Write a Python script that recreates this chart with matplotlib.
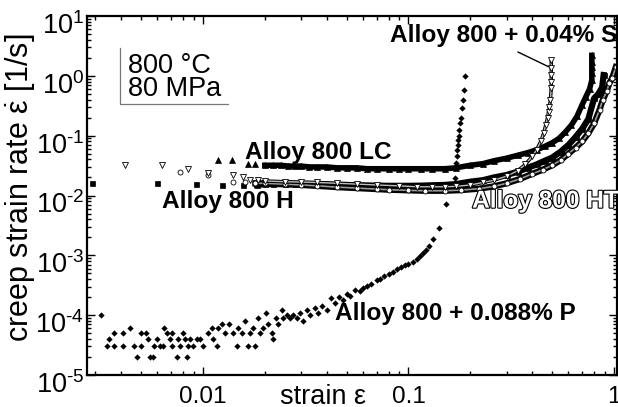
import numpy as np
import matplotlib
matplotlib.use("Agg")
import matplotlib.pyplot as plt
from matplotlib import patheffects as pe
from matplotlib.transforms import ScaledTranslation

plt.rcParams['font.family'] = ['Liberation Sans', 'DejaVu Sans']
plt.rcParams['mathtext.fontset'] = 'custom'
plt.rcParams['mathtext.rm'] = 'Liberation Sans'
plt.rcParams['mathtext.it'] = 'Liberation Sans'
plt.rcParams['mathtext.bf'] = 'Liberation Sans:bold'

# ---- data: strain, creep strain rate [1/s] ----
# Alloy 800 LC (filled triangles)
lc_x = [0.0118, 0.0139, 0.0165, 0.018, 0.02, 0.022, 0.024, 0.026, 0.028, 0.03,
        0.033, 0.036, 0.04, 0.045, 0.05, 0.056, 0.063, 0.07, 0.08, 0.09, 0.1,
        0.115, 0.13, 0.15, 0.17, 0.2, 0.23, 0.26, 0.3, 0.34, 0.38, 0.42, 0.46,
        0.5, 0.54, 0.58, 0.62, 0.66, 0.7, 0.73, 0.76, 0.78, 0.78, 0.78, 0.78, 0.78]
lc_y = [0.039, 0.039, 0.033, 0.033, 0.032, 0.032, 0.032, 0.031, 0.031, 0.031,
        0.030, 0.030, 0.030, 0.029, 0.029, 0.029, 0.028, 0.028, 0.028, 0.028, 0.028,
        0.028, 0.028, 0.028, 0.029, 0.032, 0.034, 0.038, 0.042, 0.047, 0.052, 0.058, 0.066,
        0.076, 0.09, 0.115, 0.15, 0.21, 0.33, 0.45, 0.6, 0.85, 1.1, 1.4, 1.7, 2.2]
lc_dense = 4

# Alloy 800 H (filled squares)
h_x = [0.0029, 0.006, 0.0093, 0.0124, 0.0156, 0.0183, 0.02, 0.022, 0.025, 0.028,
       0.032, 0.036, 0.04, 0.045, 0.05, 0.056, 0.063, 0.07, 0.08, 0.09, 0.1, 0.115,
       0.13, 0.15, 0.17, 0.2, 0.23, 0.26, 0.3, 0.34, 0.38, 0.42, 0.46, 0.5, 0.55,
       0.6, 0.65, 0.7, 0.75, 0.8, 0.84, 0.86, 0.875, 0.89]
h_y = [0.0161, 0.0161, 0.0155, 0.0148, 0.015, 0.015, 0.0155, 0.0155, 0.0155, 0.0155,
       0.0155, 0.0155, 0.0152, 0.015, 0.015, 0.0148, 0.0147, 0.0146, 0.0145, 0.0145, 0.0145, 0.0146,
       0.0148, 0.015, 0.0155, 0.017, 0.018, 0.02, 0.022, 0.025, 0.029, 0.033, 0.038, 0.043, 0.054,
       0.07, 0.095, 0.13, 0.19, 0.42, 0.5, 0.58, 0.63, 1.03]
h_dense = 5

# Alloy 800 HT (open circles)
ht_x = [0.0077, 0.0106, 0.014, 0.016, 0.018, 0.02, 0.025, 0.03, 0.036, 0.045,
        0.056, 0.07, 0.08, 0.1, 0.12, 0.15, 0.18, 0.22, 0.26, 0.3, 0.35, 0.4,
        0.45, 0.5, 0.55, 0.6, 0.65, 0.7, 0.75, 0.8, 0.85, 0.88, 0.92, 0.95, 0.98, 1.02]
ht_y = [0.0246, 0.0217, 0.0169, 0.0165, 0.016, 0.016, 0.0155, 0.015, 0.0145, 0.0138,
        0.0133, 0.0128, 0.0125, 0.0122, 0.012, 0.012, 0.0123, 0.013, 0.0142, 0.016, 0.019, 0.023,
        0.027, 0.032, 0.039, 0.05, 0.063, 0.08, 0.11, 0.16, 0.27, 0.39, 0.55, 0.76, 0.92, 1.4]
ht_dense = 4

# Alloy 800 + 0.04% Si (open down triangles)
si_x = [0.0042, 0.0063, 0.0085, 0.0106, 0.014, 0.0156, 0.017, 0.0185, 0.02, 0.025,
        0.03, 0.036, 0.045, 0.056, 0.07, 0.09, 0.11, 0.13, 0.15, 0.17, 0.2, 0.23,
        0.26, 0.3, 0.34, 0.37, 0.4, 0.42, 0.44, 0.455, 0.465, 0.475, 0.48, 0.485,
        0.49, 0.495, 0.495, 0.495, 0.495, 0.495]
si_y = [0.0323, 0.0323, 0.0276, 0.0237, 0.0217, 0.0201, 0.0185, 0.018, 0.0175, 0.017,
        0.0168, 0.0165, 0.016, 0.0155, 0.015, 0.0145, 0.014, 0.014, 0.014, 0.0142, 0.015, 0.0165,
        0.018, 0.021, 0.026, 0.033, 0.045, 0.058, 0.08, 0.11, 0.15, 0.2, 0.25, 0.3,
        0.39, 0.62, 0.79, 1.03, 1.35, 1.84]
si_dense = 8

# Alloy 800 + 0.088% P (filled diamonds)
p_x = [0.0032, 0.0034, 0.0035, 0.0037, 0.0037, 0.0041, 0.0041, 0.0044, 0.0046, 0.0048,
       0.005, 0.005, 0.0053, 0.0054, 0.0055, 0.0057, 0.0058, 0.006, 0.0062, 0.0064,
       0.0065, 0.0067, 0.0069, 0.0071, 0.0071, 0.0075, 0.0076, 0.0077, 0.008, 0.0082,
       0.0084, 0.0085, 0.0087, 0.0089, 0.0094, 0.0097, 0.01, 0.0106, 0.0111, 0.0112,
       0.0117, 0.0118, 0.0124, 0.0128, 0.0134, 0.014, 0.0147, 0.0148, 0.0155, 0.016,
       0.0166, 0.0169, 0.0175, 0.0179, 0.0185, 0.0189, 0.0196, 0.0203, 0.0207, 0.0217,
       0.0219, 0.0227, 0.0232, 0.0242, 0.0245, 0.0256, 0.0265, 0.0274, 0.0287, 0.0296,
       0.0307, 0.0321, 0.0332, 0.035, 0.0363, 0.038, 0.04, 0.042, 0.044, 0.046,
       0.048, 0.05, 0.052, 0.055, 0.058, 0.06, 0.063, 0.066, 0.07, 0.073,
       0.076, 0.08, 0.084, 0.088, 0.092, 0.096, 0.1, 0.105, 0.11, 0.114,
       0.118, 0.122, 0.126, 0.131, 0.14, 0.153, 0.169, 0.171, 0.172, 0.173,
       0.174, 0.175, 0.176, 0.177, 0.179, 0.18, 0.182, 0.184, 0.186, 0.189]
p_y = [1.0e-4, 3e-5, 4e-5, 3e-5, 5e-5, 5e-5, 3e-5, 6e-5, 3e-5, 2e-5,
       3e-5, 5e-5, 5e-5, 4e-5, 2e-5, 2e-5, 3e-5, 4e-5, 3e-5, 3e-5,
       6e-5, 5e-5, 4e-5, 5e-5, 3e-5, 2e-5, 4e-5, 3e-5, 5e-5, 4e-5,
       2e-5, 3e-5, 4e-5, 3e-5, 4e-5, 4e-5, 3e-5, 5e-5, 6e-5, 4e-5,
       3e-5, 6e-5, 7e-5, 5e-5, 7e-5, 5e-5, 3e-5, 6e-5, 5e-5, 8e-5,
       3e-5, 5e-5, 6e-5, 3e-5, 9e-5, 5e-5, 6e-5, 1.1e-4, 7e-5, 5e-5,
       4e-5, 9e-5, 7e-5, 1.2e-4, 9e-5, 1.0e-4, 9e-5, 1.0e-4, 9e-5, 1.1e-4,
       8e-5, 1.2e-4, 1.0e-4, 1.3e-4, 1.1e-4, 1.4e-4, 1.2e-4, 1.9e-4, 1.6e-4, 2.0e-4,
       1.8e-4, 2.3e-4, 2.1e-4, 2.6e-4, 2.5e-4, 2.9e-4, 3.1e-4, 3.3e-4, 3.8e-4, 4.0e-4,
       4.5e-4, 4.8e-4, 5.3e-4, 5.8e-4, 6.3e-4, 6.8e-4, 7.2e-4, 7.8e-4, 8.8e-4, 9.8e-4,
       1.1e-3, 1.25e-3, 1.45e-3, 1.85e-3, 2.85e-3, 7.2e-3, 0.0195, 0.035, 0.045, 0.057,
       0.07, 0.085, 0.1, 0.124, 0.16, 0.2, 0.29, 0.39, 0.58, 0.99]

x_ticks = [0.01, 0.1, 1]
x_labels = ['0.01', '0.1', '1']
y_ticks = [1e-5, 1e-4, 1e-3, 1e-2, 1e-1, 1e0, 1e1]
y_labels = [r'$10^{\text{-}5}$', r'$10^{\text{-}4}$', r'$10^{\text{-}3}$', r'$10^{\text{-}2}$',
            r'$10^{\text{-}1}$', r'$10^{0}$', r'$10^{1}$']

fig = plt.figure(figsize=(6.18, 4.07), dpi=100)
ax = fig.add_axes([0.1408, 0.0786, 0.8576, 0.8821])

# P
ax.plot(p_x, p_y, 'D', color='k', ms=3.2, mew=0)
# LC
ax.plot(lc_x[lc_dense:], lc_y[lc_dense:], '-', color='k', lw=4)
ax.plot(lc_x, lc_y, '^', color='k', ms=4, mew=0.5)
# H
ax.plot(h_x[h_dense:], h_y[h_dense:], '-', color='k', lw=4.5)
ax.plot(h_x, h_y, 's', color='k', ms=3.6, mew=0.5)
# HT
ax.plot(ht_x[ht_dense:], ht_y[ht_dense:], '-', color='k', lw=4.5)
ax.plot(ht_x[ht_dense:], ht_y[ht_dense:], '-', color='#9a9a9a', lw=1.2)
ax.plot(ht_x, ht_y, 'o', mfc='white', mec='k', ms=3.6, mew=0.6)
# Si
ax.plot(si_x[si_dense:], si_y[si_dense:], '-', color='k', lw=2.5)
ax.plot(si_x[si_dense:], si_y[si_dense:], '-', color='#bdbdbd', lw=1)
ax.plot(si_x, si_y, 'v', mfc='white', mec='k', ms=4.2, mew=0.6)

ax.set_xscale('log')
ax.set_yscale('log')
ax.set_xlim(0.00273, 1.034)
ax.set_ylim(1e-5, 10)

ax.set_xticks(x_ticks)
ax.set_xticklabels(x_labels, fontsize=17.5)
ax.set_yticks(y_ticks)
ax.set_yticklabels(y_labels, fontsize=19.5)
ax.tick_params(which='both', direction='in', top=True, right=True, width=1)
ax.tick_params(which='major', length=6)
ax.tick_params(which='minor', length=3)
ax.tick_params(axis='x', pad=8)
ax.tick_params(axis='y', pad=2)
for s in ax.spines.values():
    s.set_linewidth(1.6)

# y tick labels sit a little below their ticks in the original
shift = ScaledTranslation(0, -5 / 72, fig.dpi_scale_trans)
for lab in ax.get_yticklabels():
    lab.set_transform(lab.get_transform() + shift)

ax.set_xlabel('strain ε', fontsize=19.5)
ax.xaxis.set_label_coords(0.445, -0.024)
ax.set_ylabel(r'creep strain rate $\dot{\varepsilon}$ [1/s]', fontsize=22)
ax.yaxis.set_label_coords(-0.094, 0.522)

bold = dict(fontsize=17.6, fontweight='bold', va='center', ha='left')
ax.text(0.0160, 0.0532, 'Alloy 800 LC', **bold)
ax.text(0.00631, 0.00805, 'Alloy 800 H', **bold)
ax.text(0.204, 0.00805, 'Alloy 800 HT', color='white',
        path_effects=[pe.withStroke(linewidth=1.6, foreground='k')], clip_on=False, **bold)
ax.text(0.0439, 1.08e-4, 'Alloy 800 + 0.088% P', **bold)
ax.text(0.0812, 4.81, 'Alloy 800 + 0.04% Si', clip_on=False, **bold)
ax.annotate('', xy=(si_x[-2], si_y[-2]), xytext=(0.341, 2.5),
            arrowprops=dict(arrowstyle='-', color='k', lw=1, shrinkA=0, shrinkB=2))

# condition box (left and bottom edge only)
ax.plot([0.0623, 0.0623, 0.266], [0.911, 0.755, 0.755], color='#777777', lw=0.9,
        transform=ax.transAxes)
ax.text(0.0774, 0.829, '800 °C\n80 MPa', transform=ax.transAxes, fontsize=19.5,
        va='center', ha='left', linespacing=0.85)

fig.savefig('out.png', dpi=100)
